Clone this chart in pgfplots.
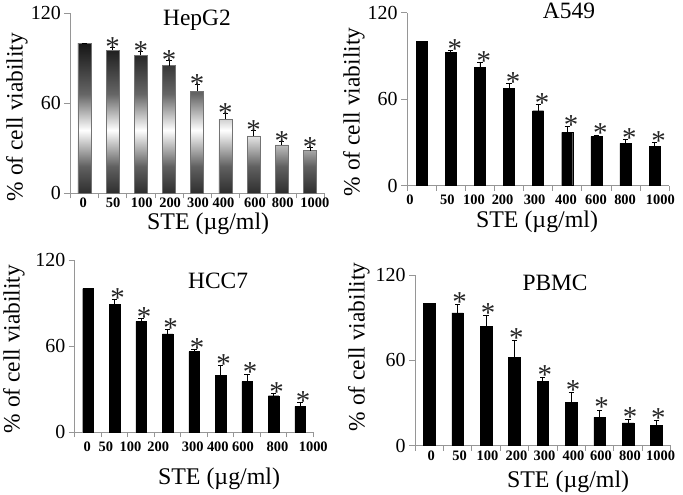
\documentclass[border=0pt]{standalone}
\usepackage{pgfplots}
\usepackage{pgfplotstable}
\pgfplotsset{compat=1.18}
\usepackage{fontspec}
\setmainfont{Liberation Serif}

\pgfplotstableread{
x y e
0 100 0
1 95.3 1.8
2 92.0 2.7
3 85.0 3.3
4 68.0 4.2
5 49.3 3.8
6 38.2 3.6
7 32.2 2.2
8 28.4 2.2
}\hepg
\pgfplotstableread{
x y e
0 100 0
1 92.3 1.8
2 82.1 3.2
3 67.5 3.5
4 52.0 4.4
5 37.0 4.4
6 34.0 1.2
7 29.4 2.8
8 27.1 2.8
}\asf
\pgfplotstableread{
x y e
0 100 0
1 88.9 3.5
2 77.2 2.3
3 68.5 2.8
4 56.1 1.6
5 39.3 7.0
6 35.1 5.4
7 25.3 1.6
8 17.8 2.8
}\hcc
\pgfplotstableread{
x y e
0 100 0
1 93.4 5.9
2 84.0 7.8
3 61.9 11.8
4 45.2 2.6
5 30.6 6.8
6 19.8 5.2
7 16.0 2.4
8 14.1 3.5
}\pbmc

\definecolor{axgray}{RGB}{150,150,150}
\pgfdeclareverticalshading{barshade}{100bp}{%
  color(0bp)=(black!82); color(25bp)=(black!82); color(34bp)=(black!62);
  color(46bp)=(white); color(58bp)=(black!60); color(75bp)=(black!92); color(100bp)=(black!92)}

\pgfplotsset{
  panel/.style={
    scale only axis, anchor=south west,
    ymin=0, ymax=120, xmin=-0.5, xmax=8.5, ytick={0,60,120},
    axis lines*=left,
    axis line style={draw=axgray, line width=0.7bp},
    tick align=outside, major tick length=6bp, minor tick length=5bp,
    ytick style={draw=axgray, line width=0.7bp},
    major x tick style={draw=none},
    minor x tick style={draw=axgray, line width=0.7bp},
    minor xtick={-0.5,0.5,...,8.5},
    xticklabels={0,50,100,200,300,400,600,800,1000},
    xticklabel style={font=\bfseries\fontsize{14.5}{14.5}\selectfont},
    yticklabel style={font=\fontsize{20}{20}\selectfont},
    /pgf/number format/assume math mode=true,
    clip=false,
    ylabel={\% of cell viability},
    xlabel={STE (µg/ml)},
  },
  ylab/.style 2 args={every axis y label/.style={at={(axis description cs:#1,#2)}, rotate=90, anchor=center, font=\fontsize{23.5}{24}\selectfont}},
  xlab/.style 2 args={every axis x label/.style={at={(axis description cs:#1,#2)}, anchor=center, font=\fontsize{24}{24}\selectfont}},
  ttl/.style 2 args={every axis title/.style={at={(axis description cs:#1,#2)}, anchor=base, font=\fontsize{23.5}{24}\selectfont}},
  errs/.style={error bars/.cd, y dir=plus, y explicit,
    error bar style={black, line width=0.7bp},
    error mark options={rotate=90, black, mark size=2.6bp, line width=0.7bp}},
  stars/.style 2 args={draw=none, mark=none, forget plot,
    nodes near coords={*},
    every node near coord/.append style={anchor=base, inner sep=0pt, xshift=#1, yshift=#2, font=\fontsize{29}{29}\selectfont, text=black!85}},
}

\begin{document}
\begin{tikzpicture}
\useasboundingbox (0,0) rectangle (683bp,495bp);

% HepG2
\begin{axis}[panel, at={(70.3bp,301.7bp)}, width=253.8bp, height=180.3bp,
  xtick={-0.04,1.02,2.03,3.04,4.03,4.93,6.05,7.03,8.17},
  xticklabel style={yshift=4.5bp},
  title={HepG2}, ttl={0.499}{0.933}, ylab={-0.21}{0.423}, xlab={0.543}{-0.17}]
\addplot[ybar, bar width=13bp, draw=black!55, line width=0.4bp,
  shading=barshade, errs]
  table[x=x, y=y, y error=e] {\hepg};
\addplot[stars={0bp}{-9bp}] table[x=x, y expr=\thisrow{y}+\thisrow{e}, skip coords between index={0}{1}] {\hepg};
\end{axis}

% A549
\begin{axis}[panel, at={(407.15bp,309.3bp)}, width=261.9bp, height=173bp,
  xtick={-0.4,0.88,1.8,2.78,3.88,4.96,5.99,6.99,8.2},
  title={A549}, ttl={0.618}{0.969}, ylab={-0.203}{0.426}, xlab={0.496}{-0.21}]
\addplot[ybar, bar width=11bp, fill=black, draw=black, errs]
  table[x=x, y=y, y error=e] {\asf};
\addplot[stars={4bp}{-8bp}] table[x=x, y expr=\thisrow{y}+\thisrow{e}, skip coords between index={0}{1}] {\asf};
\end{axis}

% HCC7
\begin{axis}[panel, at={(74.75bp,63bp)}, width=238.5bp, height=172bp,
  xtick={-0.03,0.67,1.6,2.65,3.95,4.9,5.85,7.15,8.5},
  title={HCC7}, ttl={0.601}{0.837}, ylab={-0.255}{0.482}, xlab={0.605}{-0.272}]
\addplot[ybar, bar width=10.5bp, fill=black, draw=black, errs]
  table[x=x, y=y, y error=e] {\hcc};
\addplot[stars={3bp}{-8bp}] table[x=x, y expr=\thisrow{y}+\thisrow{e}, skip coords between index={0}{1}] {\hcc};
\end{axis}

% PBMC
\begin{axis}[panel, at={(415bp,49.5bp)}, width=255.6bp, height=170.5bp,
  xtick={0.07,1.07,2.05,3.07,4.06,5.08,6.05,7.07,8.15},
  xticklabel style={yshift=4bp},
  title={PBMC}, ttl={0.548}{0.912}, ylab={-0.219}{0.578}, xlab={0.599}{-0.212}]
\addplot[ybar, bar width=11.5bp, fill=black, draw=black, errs]
  table[x=x, y=y, y error=e] {\pbmc};
\addplot[stars={2bp}{-7bp}] table[x=x, y expr=\thisrow{y}+\thisrow{e}, skip coords between index={0}{1}] {\pbmc};
\end{axis}
\end{tikzpicture}
\end{document}
